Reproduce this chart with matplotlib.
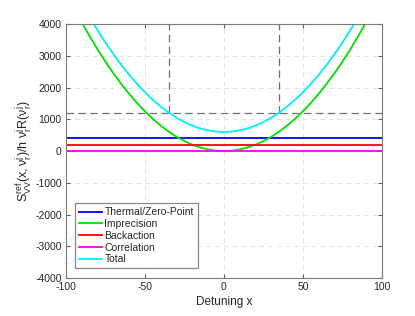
import matplotlib.pyplot as plt
import numpy as np

plt.rcParams['font.family'] = ['Liberation Sans', 'DejaVu Sans']
plt.rcParams['mathtext.fontset'] = 'custom'
plt.rcParams['mathtext.rm'] = 'Liberation Sans'
plt.rcParams['mathtext.it'] = 'Liberation Sans:italic'
plt.rcParams['axes.unicode_minus'] = False

# Detuning values (x) and the imprecision noise
detuning = np.arange(-100, 101, 5)
imprecision = np.array([5000, 4512, 4050, 3612, 3200, 2812, 2450, 2112,
                        1800, 1512, 1250, 1012, 800, 612, 450, 312,
                        200, 112, 50, 12, 0, 12, 50, 112,
                        200, 312, 450, 612, 800, 1012, 1250, 1512,
                        1800, 2112, 2450, 2812, 3200, 3612, 4050, 4512, 5000],
                       dtype=float)
thermal = 400.0      # Thermal/Zero-Point level
backaction = 200.0   # Backaction level
correlation = 0.0    # Correlation level
total = imprecision + thermal + backaction + correlation

threshold = 1200.0            # dashed horizontal level
x_cross = [-34.6, 34.6]       # where total meets the threshold

fig = plt.figure(figsize=(4.15, 3.16), dpi=100)
ax = fig.add_axes([0.159, 0.12, 0.761, 0.804])

ax.grid(True, color='#e3e3e3', linestyle=(0, (5, 4)), linewidth=0.7)
ax.set_axisbelow(True)

dash = (0, (6, 3.5))
ax.axhline(threshold, color='#707070', linestyle=dash, linewidth=0.9)
for xc in x_cross:
    ax.plot([xc, xc], [threshold, 4000], color='#707070', linestyle=dash,
            linewidth=0.9)

lw = 1.3
ax.plot(detuning, np.full(detuning.shape, thermal), color='#0000ff', lw=lw,
        label='Thermal/Zero-Point')
ax.plot(detuning, imprecision, color='#00e000', lw=lw, label='Imprecision')
ax.plot(detuning, np.full(detuning.shape, backaction), color='#ff0000', lw=lw,
        label='Backaction')
ax.plot(detuning, np.full(detuning.shape, correlation), color='#ff00ff', lw=lw,
        label='Correlation')
ax.plot(detuning, total, color='#00eeff', lw=lw, label='Total')

ax.set_xlim(-100, 100)
ax.set_ylim(-4000, 4000)
ax.set_xticks([-100, -50, 0, 50, 100])
ax.set_yticks(np.arange(-4000, 4001, 1000))
ax.tick_params(direction='in', top=True, right=True, labelsize=7.5,
               color='#606060', labelcolor='#262626', length=3, pad=3)
for s in ax.spines.values():
    s.set_color('#7a7a7a')
    s.set_linewidth(0.8)

ax.set_xlabel('Detuning x', fontsize=8.5, labelpad=3, color='#262626')
ax.set_ylabel(r'$\mathregular{S_{VV}^{ref}(x, \nu_r^j)/h\ \nu_r^j R(\nu_r^j)}$',
              fontsize=9, labelpad=1, color='#262626')

leg = ax.legend(loc='lower left', bbox_to_anchor=(0.012, 0.018), fontsize=7.5,
                fancybox=False, framealpha=1, edgecolor='#8a8a8a',
                handlelength=2.2, handletextpad=0.25, labelspacing=0.17,
                borderpad=0.38)
leg.get_frame().set_linewidth(0.9)
for t in leg.get_texts():
    t.set_color('#262626')

plt.savefig('out.png', dpi=100)
